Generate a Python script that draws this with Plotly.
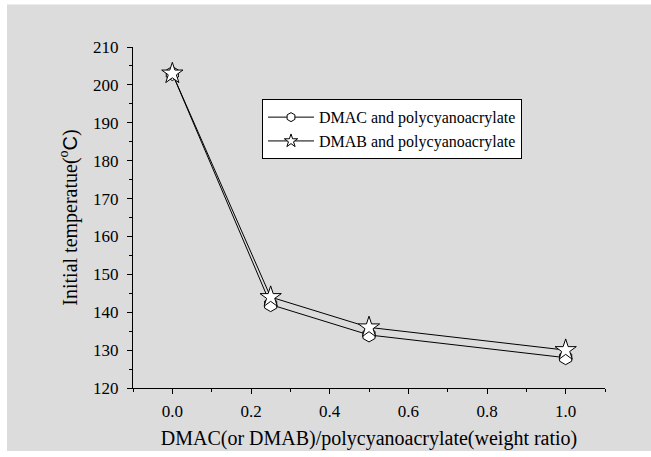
import plotly.graph_objects as go

ratios = [0.0, 0.25, 0.5, 1.0]
dmac_temp = [203, 142, 134, 128]
dmab_temp = [203, 144, 136, 130]
series_names = ["DMAC and polycyanoacrylate", "DMAB and polycyanoacrylate"]
symbols = ["hexagon", "star"]
plot_sizes = [14, 16]
legend_sizes = [9, 10]

BG = "#DCDCDC"
FONT = "Liberation Serif"

fig = go.Figure()
for vals, name, sym, ps in zip([dmac_temp, dmab_temp], series_names, symbols, plot_sizes):
    fig.add_trace(go.Scatter(
        x=ratios, y=vals, name=name, mode="lines+markers", showlegend=False,
        line=dict(color="black", width=1),
        marker=dict(symbol=sym, size=ps, color="white", line=dict(color="black", width=1)),
    ))
for name, sym, ls in zip(series_names, symbols, legend_sizes):
    fig.add_trace(go.Scatter(
        x=[None], y=[None], name=name, mode="lines+markers", showlegend=True,
        line=dict(color="black", width=1),
        marker=dict(symbol=sym, size=ls, color="white", line=dict(color="black", width=1)),
    ))

W, H = 651, 457
L, R, T, B = 133, 46, 47, 64
pw, ph = W - L - R, H - T - B
fig.add_shape(type="rect", xref="paper", yref="paper", layer="below",
              x0=(7 - L) / pw, x1=(W - L) / pw, y0=(T + ph - H) / ph,
              y1=(T + ph - 4) / ph, fillcolor=BG, line=dict(width=0))

fig.update_layout(
    width=W, height=H,
    paper_bgcolor="white", plot_bgcolor=BG,
    margin=dict(l=L, r=R, t=T, b=B),
    font=dict(family=FONT, size=16, color="black"),
    showlegend=True,
    legend=dict(
        x=(262 - L) / pw, y=(T + ph - 100) / ph, xanchor="left", yanchor="top",
        bgcolor="white", bordercolor="black", borderwidth=1,
        font=dict(family=FONT, size=16),
        itemwidth=46, tracegroupgap=0,
    ),
    xaxis=dict(
        range=[-0.1, 1.1], tickvals=[0.0, 0.2, 0.4, 0.6, 0.8, 1.0],
        ticktext=["0.0", "0.2", "0.4", "0.6", "0.8", "1.0"],
        showgrid=False, zeroline=False, showline=True, linecolor="black", linewidth=1,
        ticks="outside", ticklen=5, tickcolor="black", ticklabelstandoff=3,
        minor=dict(ticks="outside", ticklen=3, tickvals=[-0.1, 0.1, 0.3, 0.5, 0.7, 0.9, 1.1], tickcolor="black"),
        title=dict(text="DMAC(or DMAB)/polycyanoacrylate(weight ratio)", font=dict(family=FONT, size=20), standoff=10),
        tickfont=dict(family=FONT, size=17),
    ),
    yaxis=dict(
        range=[120, 210], dtick=10,
        showgrid=False, zeroline=False, showline=True, linecolor="black", linewidth=1,
        ticks="outside", ticklen=5, tickcolor="black", ticklabelstandoff=5,
        minor=dict(ticks="outside", ticklen=3, dtick=5, tickcolor="black"),
        title=dict(text="Initial temperatue(<sup>o</sup><span style='font-family:Liberation Sans'>C</span>)",
                   font=dict(family=FONT, size=20), standoff=10),
        tickfont=dict(family=FONT, size=17),
    ),
)

fig.write_html("out.html", config={"displayModeBar": False},
               post_script="document.body.style.margin='0';document.body.style.overflow='hidden';")
